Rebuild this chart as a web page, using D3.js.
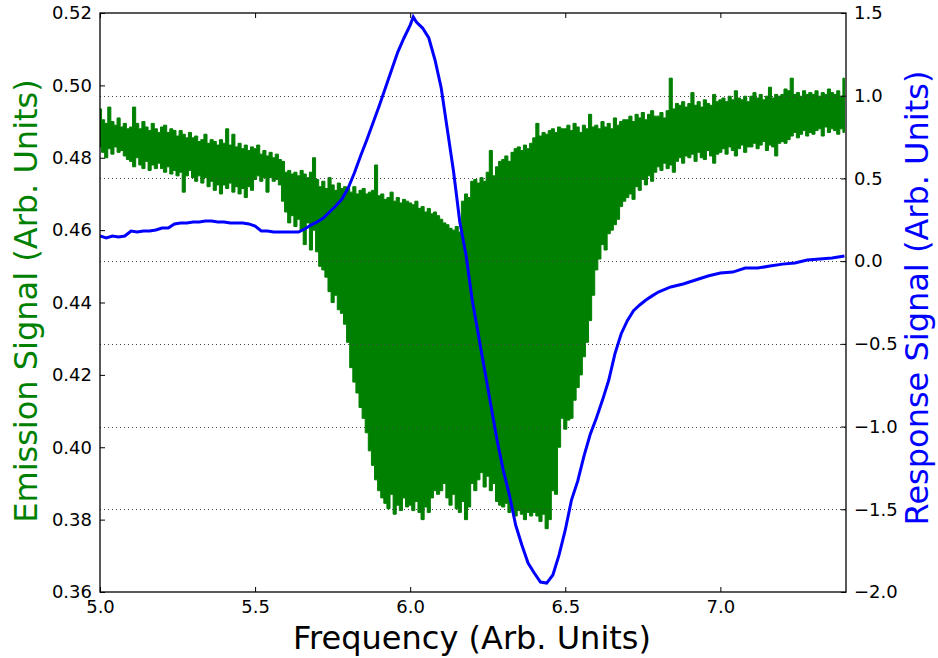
<!DOCTYPE html>
<html>
<head>
<meta charset="utf-8">
<script src="https://cdn.jsdelivr.net/npm/d3@7"></script>
<style>
  body { margin: 0; background: #fff; }
  svg { display: block; font-family: "DejaVu Sans", sans-serif; }
</style>
</head>
<body>
<svg id="chart" width="938" height="658"></svg>
<script>
// ----- Emission signal: sampled every 0.01 from 5.00 to 7.40, max / min of the noise band
const emissionStart = 5.0;
const emissionStep = 0.01;
const emissionHi = [
  0.4935, 0.4905, 0.4895, 0.4940, 0.4900, 0.4890, 0.4910, 0.4885, 0.4895, 0.4880,
  0.4885, 0.4940, 0.4895, 0.4880, 0.4900, 0.4885, 0.4875, 0.4895, 0.4880, 0.4870,
  0.4885, 0.4890, 0.4870, 0.4880, 0.4875, 0.4860, 0.4875, 0.4865, 0.4855, 0.4870,
  0.4855, 0.4860, 0.4845, 0.4850, 0.4865, 0.4840, 0.4850, 0.4845, 0.4835, 0.4850,
  0.4840, 0.4880, 0.4835, 0.4865, 0.4830, 0.4840, 0.4825, 0.4835, 0.4820, 0.4830,
  0.4825, 0.4835, 0.4810, 0.4820, 0.4805, 0.4815, 0.4800, 0.4810, 0.4795, 0.4790,
  0.4760, 0.4765, 0.4755, 0.4760, 0.4750, 0.4765, 0.4755, 0.4745, 0.4760, 0.4800,
  0.4740, 0.4720, 0.4735, 0.4715, 0.4745, 0.4725, 0.4710, 0.4730, 0.4715, 0.4720,
  0.4715, 0.4705, 0.4720, 0.4700, 0.4710, 0.4715, 0.4700, 0.4705, 0.4710, 0.4780,
  0.4695, 0.4700, 0.4685, 0.4690, 0.4705, 0.4680, 0.4690, 0.4675, 0.4685, 0.4680,
  0.4675, 0.4670, 0.4680, 0.4660, 0.4665, 0.4650, 0.4660, 0.4645, 0.4650, 0.4640,
  0.4630, 0.4620, 0.4615, 0.4605, 0.4600, 0.4610, 0.4595, 0.4680, 0.4700, 0.4690,
  0.4735, 0.4740, 0.4730, 0.4745, 0.4735, 0.4760, 0.4820, 0.4750, 0.4775, 0.4790,
  0.4795, 0.4805, 0.4790, 0.4815, 0.4825, 0.4830, 0.4820, 0.4835, 0.4825, 0.4840,
  0.4855, 0.4895, 0.4860, 0.4870, 0.4865, 0.4875, 0.4880, 0.4870, 0.4885, 0.4880,
  0.4880, 0.4890, 0.4875, 0.4895, 0.4885, 0.4870, 0.4890, 0.4880, 0.4920, 0.4885,
  0.4890, 0.4880, 0.4900, 0.4885, 0.4895, 0.4880, 0.4910, 0.4890, 0.4900, 0.4905,
  0.4905, 0.4915, 0.4900, 0.4920, 0.4910, 0.4925, 0.4905, 0.4920, 0.4930, 0.4915,
  0.4915, 0.4925, 0.4910, 0.4930, 0.5020, 0.4935, 0.4950, 0.4945, 0.4955, 0.4940,
  0.4950, 0.4980, 0.4945, 0.4955, 0.4940, 0.4960, 0.4950, 0.4945, 0.4975, 0.4955,
  0.4960, 0.4965, 0.4955, 0.4970, 0.4960, 0.4985, 0.4965, 0.4960, 0.4970, 0.4955,
  0.4970, 0.4980, 0.4965, 0.4975, 0.4960, 0.4970, 0.4995, 0.4965, 0.4975, 0.4970,
  0.4975, 0.4990, 0.4985, 0.5020, 0.4975, 0.4980, 0.4970, 0.4985, 0.4975, 0.4980,
  0.4975, 0.4985, 0.4970, 0.4980, 0.4975, 0.4990, 0.4980, 0.4975, 0.4985, 0.4970,
  0.5020
];
const emissionLo = [
  0.4830, 0.4815, 0.4800, 0.4825, 0.4810, 0.4830, 0.4815, 0.4820, 0.4805, 0.4795,
  0.4790, 0.4775, 0.4800, 0.4780, 0.4770, 0.4790, 0.4765, 0.4780, 0.4770, 0.4785,
  0.4770, 0.4760, 0.4775, 0.4755, 0.4765, 0.4750, 0.4760, 0.4705, 0.4750, 0.4765,
  0.4745, 0.4735, 0.4750, 0.4730, 0.4745, 0.4720, 0.4735, 0.4710, 0.4725, 0.4700,
  0.4725, 0.4715, 0.4730, 0.4705, 0.4720, 0.4700, 0.4715, 0.4690, 0.4720, 0.4710,
  0.4740, 0.4750, 0.4735, 0.4745, 0.4705, 0.4745, 0.4735, 0.4740, 0.4725, 0.4680,
  0.4650, 0.4620, 0.4640, 0.4610, 0.4630, 0.4600, 0.4560, 0.4620, 0.4545, 0.4600,
  0.4540, 0.4500, 0.4490, 0.4470, 0.4430, 0.4400, 0.4420, 0.4380, 0.4370, 0.4340,
  0.4290, 0.4220, 0.4180, 0.4150, 0.4110, 0.4080, 0.4040, 0.3990, 0.3950, 0.3910,
  0.3880, 0.3860, 0.3845, 0.3830, 0.3870, 0.3815, 0.3840, 0.3825, 0.3860, 0.3835,
  0.3840, 0.3825, 0.3850, 0.3820, 0.3800, 0.3835, 0.3820, 0.3860, 0.3880, 0.3870,
  0.3880, 0.3900, 0.3860, 0.3840, 0.3870, 0.3830, 0.3820, 0.3850, 0.3800, 0.3835,
  0.3900, 0.3880, 0.3910, 0.3930, 0.3890, 0.3920, 0.3880, 0.3900, 0.3850, 0.3840,
  0.3835, 0.3845, 0.3820, 0.3830, 0.3810, 0.3825, 0.3815, 0.3800, 0.3820, 0.3810,
  0.3820, 0.3810, 0.3795, 0.3815, 0.3775, 0.3800, 0.3880, 0.3870, 0.4000, 0.4080,
  0.4050, 0.4075, 0.4080, 0.4130, 0.4165, 0.4200, 0.4250, 0.4290, 0.4350, 0.4420,
  0.4490, 0.4520, 0.4560, 0.4545, 0.4590, 0.4600, 0.4615, 0.4630, 0.4665, 0.4680,
  0.4690, 0.4700, 0.4685, 0.4720, 0.4710, 0.4740, 0.4725, 0.4750, 0.4735, 0.4760,
  0.4775, 0.4765, 0.4785, 0.4770, 0.4780, 0.4760, 0.4790, 0.4800, 0.4785, 0.4805,
  0.4800, 0.4810, 0.4790, 0.4815, 0.4800, 0.4795, 0.4820, 0.4805, 0.4785, 0.4810,
  0.4815, 0.4825, 0.4810, 0.4830, 0.4820, 0.4805, 0.4825, 0.4835, 0.4815, 0.4830,
  0.4830, 0.4840, 0.4825, 0.4835, 0.4845, 0.4820, 0.4835, 0.4830, 0.4805, 0.4840,
  0.4845, 0.4840, 0.4850, 0.4860, 0.4870, 0.4855, 0.4865, 0.4875, 0.4860, 0.4870,
  0.4865, 0.4875, 0.4880, 0.4860, 0.4885, 0.4870, 0.4880, 0.4875, 0.4865, 0.4880,
  0.4870
];

// ----- Response signal (right axis)
const responseFreq = [
  5.00, 5.02, 5.04, 5.06, 5.08, 5.10, 5.12, 5.14, 5.16, 5.18,
  5.20, 5.22, 5.24, 5.26, 5.28, 5.30, 5.32, 5.34, 5.36, 5.38,
  5.40, 5.42, 5.44, 5.46, 5.48, 5.50, 5.52, 5.54, 5.56, 5.58,
  5.60, 5.62, 5.64, 5.66, 5.68, 5.70, 5.72, 5.74, 5.76, 5.78,
  5.80, 5.82, 5.84, 5.86, 5.88, 5.90, 5.92, 5.94, 5.96, 5.98,
  6.00, 6.01, 6.02, 6.04, 6.06, 6.08, 6.10, 6.12, 6.14, 6.16,
  6.18, 6.20, 6.22, 6.24, 6.26, 6.28, 6.30, 6.32, 6.34, 6.36,
  6.38, 6.40, 6.42, 6.44, 6.46, 6.48, 6.50, 6.52, 6.54, 6.56,
  6.58, 6.60, 6.62, 6.64, 6.66, 6.68, 6.70, 6.72, 6.74, 6.76,
  6.78, 6.80, 6.84, 6.88, 6.92, 6.96, 7.00, 7.04, 7.08, 7.12,
  7.16, 7.20, 7.24, 7.28, 7.32, 7.36, 7.40
];
const responseVal = [
  0.152, 0.140, 0.152, 0.146, 0.152, 0.182, 0.176, 0.182, 0.182, 0.188,
  0.200, 0.200, 0.225, 0.230, 0.230, 0.237, 0.237, 0.243, 0.243, 0.237,
  0.237, 0.230, 0.230, 0.230, 0.225, 0.212, 0.182, 0.182, 0.176, 0.176,
  0.176, 0.176, 0.176, 0.194, 0.218, 0.237, 0.260, 0.297, 0.333, 0.375,
  0.442, 0.533, 0.636, 0.732, 0.835, 0.938, 1.047, 1.155, 1.264, 1.349,
  1.427, 1.476, 1.445, 1.409, 1.349, 1.216, 1.047, 0.793, 0.539, 0.237,
  0.037, -0.235, -0.446, -0.658, -0.870, -1.081, -1.263, -1.414, -1.595, -1.716,
  -1.825, -1.885, -1.940, -1.946, -1.897, -1.776, -1.625, -1.444, -1.330, -1.180,
  -1.050, -0.950, -0.840, -0.720, -0.560, -0.440, -0.360, -0.300, -0.265, -0.235,
  -0.210, -0.187, -0.156, -0.138, -0.114, -0.090, -0.072, -0.066, -0.042, -0.042,
  -0.030, -0.018, -0.011, 0.007, 0.013, 0.019, 0.031
];

// ----- Axis ticks
const freqTicks = [5.0, 5.5, 6.0, 6.5, 7.0];
const emissionTicks = [0.36, 0.38, 0.40, 0.42, 0.44, 0.46, 0.48, 0.50, 0.52];
const responseTicks = [-2.0, -1.5, -1.0, -0.5, 0.0, 0.5, 1.0, 1.5];

const emissionData = emissionHi.map((hi, i) => ({
  f: emissionStart + i * emissionStep, hi: hi, lo: emissionLo[i]
}));
const responseData = responseFreq.map((f, i) => ({ f: f, v: responseVal[i] }));

// ----- Layout
const margin = { top: 13, right: 92, bottom: 66, left: 100 };
const W = 938, H = 658;
const width = W - margin.left - margin.right;
const height = H - margin.top - margin.bottom;

const svg = d3.select("#chart");
const g = svg.append("g").attr("transform", `translate(${margin.left},${margin.top})`);

const x = d3.scaleLinear().domain([5.0, 7.405]).range([0, width]);
const yL = d3.scaleLinear().domain([0.36, 0.52]).range([height, 0]);
const yR = d3.scaleLinear().domain([-2.0, 1.5]).range([height, 0]);

// clip for the data
svg.append("defs").append("clipPath").attr("id", "plotClip")
  .append("rect").attr("width", width).attr("height", height);

// emission band
const area = d3.area()
  .x(d => x(d.f))
  .y0(d => yL(d.lo))
  .y1(d => yL(d.hi))
  .curve(d3.curveStep);

g.append("path")
  .datum(emissionData)
  .attr("clip-path", "url(#plotClip)")
  .attr("d", area)
  .attr("fill", "#008000")
  .attr("stroke", "#008000")
  .attr("stroke-width", 1);

// dotted grid from right axis
g.append("g")
  .selectAll("line")
  .data(responseTicks.filter(t => t > -2 && t < 1.5))
  .join("line")
    .attr("x1", 0)
    .attr("x2", width)
    .attr("y1", d => Math.round(yR(d)) + 0.5)
    .attr("y2", d => Math.round(yR(d)) + 0.5)
    .attr("stroke", "#444")
    .attr("stroke-width", 1)
    .attr("stroke-dasharray", "1,3");

// response line
const line = d3.line()
  .x(d => x(d.f))
  .y(d => yR(d.v));

g.append("path")
  .datum(responseData)
  .attr("clip-path", "url(#plotClip)")
  .attr("d", line)
  .attr("fill", "none")
  .attr("stroke", "#0000ff")
  .attr("stroke-width", 3);

// ----- Axes (ticks point inward, matplotlib style)
const tickFont = 18;
const tickLen = 5;

const axisBottom = g.append("g")
  .attr("transform", `translate(0,${height})`)
  .call(d3.axisBottom(x).tickValues(freqTicks).tickFormat(d3.format(".1f"))
    .tickSizeInner(-tickLen).tickSizeOuter(0).tickPadding(8));

const axisTop = g.append("g")
  .call(d3.axisTop(x).tickValues(freqTicks).tickFormat("")
    .tickSizeInner(-tickLen).tickSizeOuter(0));

const axisLeft = g.append("g")
  .call(d3.axisLeft(yL).tickValues(emissionTicks).tickFormat(d3.format(".2f"))
    .tickSizeInner(-tickLen).tickSizeOuter(0).tickPadding(8));

const axisRight = g.append("g")
  .attr("transform", `translate(${width},0)`)
  .call(d3.axisRight(yR).tickValues(responseTicks).tickFormat(d3.format(".1f"))
    .tickSizeInner(-tickLen).tickSizeOuter(0).tickPadding(8));

[axisBottom, axisTop, axisLeft, axisRight].forEach(a => {
  a.attr("font-size", tickFont)
   .attr("font-family", "DejaVu Sans, sans-serif");
  a.select(".domain").remove();
  a.selectAll(".tick line").attr("stroke", "#000").attr("stroke-width", 1);
  a.selectAll(".tick text").attr("fill", "#000");
});

// frame
g.append("rect")
  .attr("width", width)
  .attr("height", height)
  .attr("fill", "none")
  .attr("stroke", "#000")
  .attr("stroke-width", 1.3);

// ----- Axis titles
svg.append("text")
  .attr("x", 472)
  .attr("y", 649)
  .attr("text-anchor", "middle")
  .attr("font-size", 32)
  .attr("fill", "#000")
  .text("Frequency (Arb. Units)");

svg.append("text")
  .attr("transform", "translate(37,301) rotate(-90)")
  .attr("text-anchor", "middle")
  .attr("font-size", 32)
  .attr("fill", "#008000")
  .text("Emission Signal (Arb. Units)");

svg.append("text")
  .attr("transform", "translate(928,298) rotate(-90)")
  .attr("text-anchor", "middle")
  .attr("font-size", 32)
  .attr("fill", "#0000ff")
  .text("Response Signal (Arb. Units)");
</script>
</body>
</html>
